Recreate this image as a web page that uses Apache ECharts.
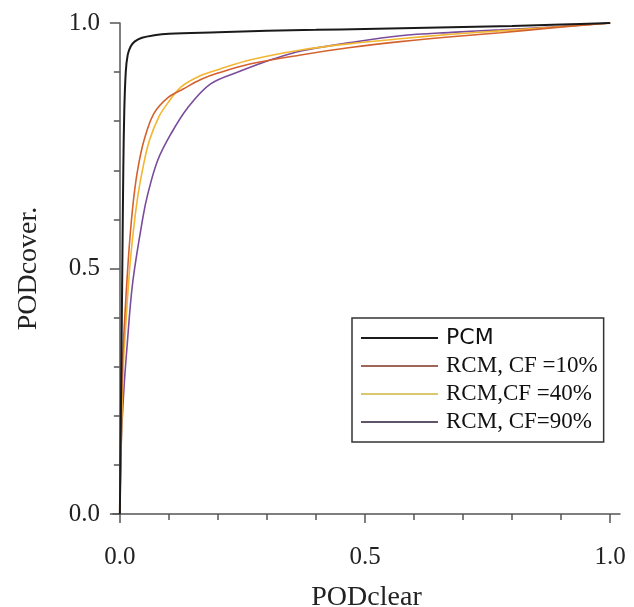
<!DOCTYPE html>
<html>
<head>
<meta charset="utf-8">
<script src="https://cdn.jsdelivr.net/npm/echarts@6/dist/echarts.min.js"></script>
<style>
  html, body { margin: 0; padding: 0; background: #fff; }
  #chart { width: 634px; height: 607px; }
</style>
</head>
<body>
<div id="chart"></div>
<script>
// curve points: [PODclear, PODcover]
const pcm = [
  [0, 0], [0.001, 0.1], [0.003, 0.3], [0.005, 0.5], [0.007, 0.7], [0.009, 0.82],
  [0.012, 0.9], [0.016, 0.935], [0.022, 0.952], [0.03, 0.962], [0.045, 0.97],
  [0.07, 0.975], [0.1, 0.978], [0.2, 0.981], [0.3, 0.984], [0.4, 0.986],
  [0.5, 0.988], [0.6, 0.99], [0.7, 0.992], [0.8, 0.994], [0.9, 0.997], [1, 1]
]
const rcm10 = [
  [0, 0], [0.002, 0.15], [0.005, 0.3], [0.01, 0.4], [0.016, 0.5], [0.022, 0.58],
  [0.029, 0.65], [0.037, 0.705], [0.049, 0.76], [0.069, 0.815], [0.098, 0.848],
  [0.13, 0.866], [0.165, 0.885], [0.2, 0.898], [0.267, 0.917], [0.369, 0.935],
  [0.47, 0.95], [0.572, 0.962], [0.676, 0.972], [0.776, 0.98], [0.88, 0.99], [1, 1]
]
const rcm40 = [
  [0, 0], [0.003, 0.15], [0.007, 0.3], [0.013, 0.4], [0.02, 0.5], [0.028, 0.58],
  [0.037, 0.65], [0.047, 0.705], [0.06, 0.76], [0.08, 0.81], [0.1, 0.84],
  [0.125, 0.87], [0.165, 0.893], [0.2, 0.905], [0.267, 0.925], [0.369, 0.945],
  [0.47, 0.958], [0.572, 0.968], [0.676, 0.977], [0.776, 0.984], [0.88, 0.991], [1, 1]
]
const rcm90 = [
  [0, 0], [0.003, 0.15], [0.008, 0.25], [0.014, 0.333], [0.026, 0.47],
  [0.047, 0.604], [0.057, 0.652], [0.077, 0.72], [0.104, 0.774], [0.138, 0.827],
  [0.185, 0.876], [0.246, 0.902], [0.314, 0.927], [0.369, 0.943], [0.47, 0.96],
  [0.572, 0.974], [0.676, 0.981], [0.776, 0.986], [0.88, 0.992], [1, 1]
]
const seriesNames = ['PCM', 'RCM, CF =10%', 'RCM,CF =40%', 'RCM, CF=90%']
const seriesColors = ['#1a1a1a', '#d4622e', '#f2b631', '#7a4b9a']
const legendColors = ['#1a1a1a', '#a0665a', '#d8c870', '#5f5468']
const minorTicks = [0, 0.1, 0.2, 0.3, 0.4, 0.5, 0.6, 0.7, 0.8, 0.9, 1]
const majorTicks = [0, 0.5, 1]

const serif = '"Liberation Serif", "DejaVu Serif", serif'
const axisColor = '#555'
const chart = echarts.init(document.getElementById('chart'))

const allData = [pcm, rcm10, rcm40, rcm90]

chart.setOption({
  animation: false,
  grid: { left: 113, right: 14, top: 23, bottom: 93, outerBoundsMode: 'none' },
  legend: {
    orient: 'vertical',
    left: 352,
    top: 318,
    padding: [8, 6, 8, 9],
    itemWidth: 77,
    itemHeight: 2,
    itemGap: 4,
    borderColor: '#333',
    borderWidth: 1.5,
    data: seriesNames.map((n, i) => ({
      name: n,
      icon: 'rect',
      itemStyle: { color: legendColors[i] }
    })),
    formatter: n => n === 'PCM' ? '{s|' + n + '}' : '{r|' + n + '}',
    textStyle: {
      padding: [0, 0, 0, 3],
      lineHeight: 24,
      rich: {
        s: { fontFamily: '"DejaVu Sans", sans-serif', fontSize: 22, color: '#111', lineHeight: 24 },
        r: { fontFamily: serif, fontSize: 23, color: '#111', lineHeight: 24 }
      }
    }
  },
  xAxis: [
    {
      type: 'value',
      min: -0.014,
      max: 1.02,
      name: 'PODclear',
      nameLocation: 'middle',
      nameGap: 70,
      nameTextStyle: { fontFamily: serif, fontSize: 28, color: '#222' },
      axisLine: { lineStyle: { color: axisColor, width: 1.5 } },
      axisTick: { customValues: minorTicks, length: 6, lineStyle: { color: axisColor, width: 1.5 } },
      axisLabel: {
        customValues: majorTicks,
        margin: 31,
        fontFamily: serif,
        fontSize: 25,
        color: '#222',
        formatter: v => v.toFixed(1)
      },
      splitLine: { show: false }
    },
    {
      // longer ticks at the labelled values
      type: 'value',
      position: 'bottom',
      min: -0.014,
      max: 1.02,
      axisLine: { show: false },
      axisTick: { customValues: majorTicks, length: 9, lineStyle: { color: axisColor, width: 1.5 } },
      axisLabel: { show: false },
      splitLine: { show: false }
    }
  ],
  yAxis: {
    type: 'value',
    min: 0,
    max: 1,
    interval: 0.5,
    name: 'PODcover.',
    nameLocation: 'middle',
    nameGap: 70,
    nameTextStyle: { fontFamily: serif, fontSize: 28, color: '#222' },
    axisLine: { show: true, lineStyle: { color: axisColor, width: 1.5 } },
    axisTick: { show: true, length: 10, lineStyle: { color: axisColor, width: 1.5 } },
    minorTick: { show: true, splitNumber: 5, length: 6, lineStyle: { color: axisColor, width: 1.5 } },
    axisLabel: {
      margin: 13,
      fontFamily: serif,
      fontSize: 25,
      color: '#222',
      formatter: v => v.toFixed(1)
    },
    splitLine: { show: false }
  },
  series: seriesNames.map((n, i) => ({
    name: n,
    type: 'line',
    data: allData[i],
    symbol: 'none',
    smooth: 0.35,
    lineStyle: { color: seriesColors[i], width: i === 0 ? 2 : 1.6 },
    itemStyle: { color: seriesColors[i] },
    z: 4 - i
  }))
})
</script>
</body>
</html>
